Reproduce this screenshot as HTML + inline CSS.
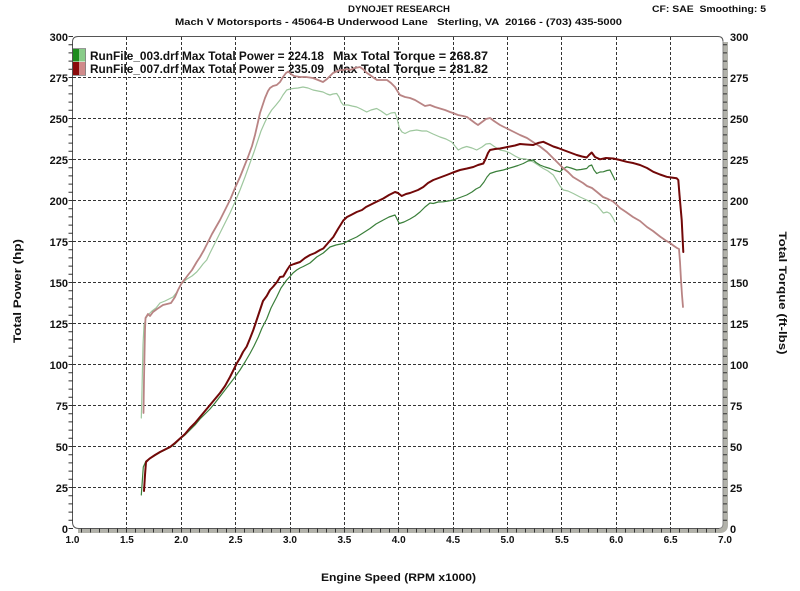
<!DOCTYPE html>
<html><head><meta charset="utf-8"><style>
html,body{margin:0;padding:0;background:#fff;}
svg{display:block;font-family:"Liberation Sans",sans-serif;font-weight:bold;}
text{white-space:pre;}
</style></head><body>
<svg width="800" height="591" viewBox="0 0 800 591" xmlns="http://www.w3.org/2000/svg">
<rect width="800" height="591" fill="#fff"/>
<!-- titles -->
<text x="348" y="12" font-size="9" textLength="102" lengthAdjust="spacingAndGlyphs" fill="#111">DYNOJET RESEARCH</text>
<text x="175" y="25" font-size="9.5" textLength="447" lengthAdjust="spacingAndGlyphs" fill="#111" xml:space="preserve">Mach V Motorsports - 45064-B Underwood Lane   Sterling, VA  20166 - (703) 435-5000</text>
<text x="652" y="12" font-size="9.5" textLength="114" lengthAdjust="spacingAndGlyphs" fill="#111" xml:space="preserve">CF: SAE  Smoothing: 5</text>

<!-- gridlines -->
<g stroke="#333" stroke-width="1" stroke-dasharray="3 2" fill="none">
<path d="M73 77.5H723M73 118.5H723M73 159.5H723M73 200.5H723M73 241.5H723M73 282.5H723M73 323.5H723M73 364.5H723M73 405.5H723M73 446.5H723M73 487.5H723"/>
<path d="M126.5 37V528M181.5 37V528M235.5 37V528M290.5 37V528M344.5 37V528M398.5 37V528M453.5 37V528M507.5 37V528M561.5 37V528M616.5 37V528M670.5 37V528"/>
</g>

<!-- frame -->
<path d="M78 530.5 L720 530.5 Q725.5 530.5 725.5 525 L725.5 42" stroke="#b2b2aa" stroke-width="5" fill="none"/>
<path d="M72.5 523 L72.5 42 Q72.5 36.5 78 36.5 L718 36.5 Q723 36.5 723 41.5" stroke="#555" stroke-width="1" fill="none"/>
<path d="M72.5 522 Q72.5 528.5 79 528.5 L720 528.5" stroke="#555" stroke-width="1" fill="none"/>
<path d="M723 41 L723 524 Q723 528 719 528.5" stroke="#888" stroke-width="1" fill="none"/>

<!-- left ticks -->
<g stroke="#333" stroke-width="1">
<path d="M68.5 36.5H73M68.5 44.7H73M68.5 52.9H73M68.5 61.1H73M68.5 69.3H73M68.5 77.5H73M68.5 85.7H73M68.5 93.9H73M68.5 102.1H73M68.5 110.3H73M68.5 118.5H73M68.5 126.7H73M68.5 134.9H73M68.5 143.1H73M68.5 151.3H73M68.5 159.5H73M68.5 167.7H73M68.5 175.9H73M68.5 184.1H73M68.5 192.3H73M68.5 200.5H73M68.5 208.7H73M68.5 216.9H73M68.5 225.1H73M68.5 233.3H73M68.5 241.5H73M68.5 249.7H73M68.5 257.9H73M68.5 266.1H73M68.5 274.3H73M68.5 282.5H73M68.5 290.7H73M68.5 298.9H73M68.5 307.1H73M68.5 315.3H73M68.5 323.5H73M68.5 331.7H73M68.5 339.9H73M68.5 348.1H73M68.5 356.3H73M68.5 364.5H73M68.5 372.7H73M68.5 380.9H73M68.5 389.1H73M68.5 397.3H73M68.5 405.5H73M68.5 413.7H73M68.5 421.9H73M68.5 430.1H73M68.5 438.3H73M68.5 446.5H73M68.5 454.7H73M68.5 462.9H73M68.5 471.1H73M68.5 479.3H73M68.5 487.5H73M68.5 495.7H73M68.5 503.9H73M68.5 512.1H73M68.5 520.3H73M68.5 528.5H73"/>
<!-- right ticks -->
<path d="M723 44.7H727M723 52.9H727M723 61.1H727M723 69.3H727M723 77.5H727M723 85.7H727M723 93.9H727M723 102.1H727M723 110.3H727M723 118.5H727M723 126.7H727M723 134.9H727M723 143.1H727M723 151.3H727M723 159.5H727M723 167.7H727M723 175.9H727M723 184.1H727M723 192.3H727M723 200.5H727M723 208.7H727M723 216.9H727M723 225.1H727M723 233.3H727M723 241.5H727M723 249.7H727M723 257.9H727M723 266.1H727M723 274.3H727M723 282.5H727M723 290.7H727M723 298.9H727M723 307.1H727M723 315.3H727M723 323.5H727M723 331.7H727M723 339.9H727M723 348.1H727M723 356.3H727M723 364.5H727M723 372.7H727M723 380.9H727M723 389.1H727M723 397.3H727M723 405.5H727M723 413.7H727M723 421.9H727M723 430.1H727M723 438.3H727M723 446.5H727M723 454.7H727M723 462.9H727M723 471.1H727M723 479.3H727M723 487.5H727M723 495.7H727M723 503.9H727M723 512.1H727M723 520.3H727"/>
</g>
<!-- bottom ticks -->
<path stroke="#333" stroke-width="1" d="M81.5 528.5V532.5M90.5 528.5V532.5M99.5 528.5V532.5M108.5 528.5V532.5M117.5 528.5V532.5M126.5 528.5V532.5M135.5 528.5V532.5M144.5 528.5V532.5M153.5 528.5V532.5M162.5 528.5V532.5M172.5 528.5V532.5M181.5 528.5V532.5M190.5 528.5V532.5M199.5 528.5V532.5M208.5 528.5V532.5M217.5 528.5V532.5M226.5 528.5V532.5M235.5 528.5V532.5M244.5 528.5V532.5M253.5 528.5V532.5M262.5 528.5V532.5M271.5 528.5V532.5M280.5 528.5V532.5M290.5 528.5V532.5M299.5 528.5V532.5M308.5 528.5V532.5M317.5 528.5V532.5M326.5 528.5V532.5M335.5 528.5V532.5M344.5 528.5V532.5M353.5 528.5V532.5M362.5 528.5V532.5M371.5 528.5V532.5M380.5 528.5V532.5M389.5 528.5V532.5M398.5 528.5V532.5M407.5 528.5V532.5M416.5 528.5V532.5M425.5 528.5V532.5M434.5 528.5V532.5M443.5 528.5V532.5M453.5 528.5V532.5M462.5 528.5V532.5M471.5 528.5V532.5M480.5 528.5V532.5M489.5 528.5V532.5M498.5 528.5V532.5M507.5 528.5V532.5M516.5 528.5V532.5M525.5 528.5V532.5M534.5 528.5V532.5M543.5 528.5V532.5M552.5 528.5V532.5M561.5 528.5V532.5M570.5 528.5V532.5M579.5 528.5V532.5M588.5 528.5V532.5M597.5 528.5V532.5M606.5 528.5V532.5M616.5 528.5V532.5M625.5 528.5V532.5M634.5 528.5V532.5M643.5 528.5V532.5M652.5 528.5V532.5M661.5 528.5V532.5M670.5 528.5V532.5M679.5 528.5V532.5M688.5 528.5V532.5M697.5 528.5V532.5M706.5 528.5V532.5M715.5 528.5V532.5"/>

<!-- left labels -->
<g font-size="11" text-anchor="end" fill="#111">
<text x="68" y="41">300</text><text x="68" y="82">275</text><text x="68" y="123">250</text><text x="68" y="164">225</text><text x="68" y="205">200</text><text x="68" y="246">175</text><text x="68" y="287">150</text><text x="68" y="328">125</text><text x="68" y="369">100</text><text x="68" y="410">75</text><text x="68" y="451">50</text><text x="68" y="492">25</text><text x="68" y="533">0</text>
</g>
<g font-size="11" text-anchor="start" fill="#111">
<text x="730" y="41">300</text><text x="730" y="82">275</text><text x="730" y="123">250</text><text x="730" y="164">225</text><text x="730" y="205">200</text><text x="730" y="246">175</text><text x="730" y="287">150</text><text x="730" y="328">125</text><text x="730" y="369">100</text><text x="730" y="410">75</text><text x="730" y="451">50</text><text x="730" y="492">25</text><text x="730" y="533">0</text>
</g>
<g font-size="10" text-anchor="middle" fill="#111">
<text x="72.5" y="543">1.0</text><text x="126.9" y="543">1.5</text><text x="181.2" y="543">2.0</text><text x="235.6" y="543">2.5</text><text x="290" y="543">3.0</text><text x="344.4" y="543">3.5</text><text x="398.7" y="543">4.0</text><text x="453.1" y="543">4.5</text><text x="507.5" y="543">5.0</text><text x="561.9" y="543">5.5</text><text x="616.2" y="543">6.0</text><text x="670.6" y="543">6.5</text><text x="725" y="543">7.0</text>
</g>

<text x="321" y="581" font-size="11" textLength="155" lengthAdjust="spacingAndGlyphs" fill="#111">Engine Speed (RPM x1000)</text>
<text transform="translate(21,291) rotate(-90)" text-anchor="middle" font-size="11" textLength="104" lengthAdjust="spacingAndGlyphs" fill="#111">Total Power (hp)</text>
<text transform="translate(779,293) rotate(90)" text-anchor="middle" font-size="11" textLength="123" lengthAdjust="spacingAndGlyphs" fill="#111">Total Torque (ft-lbs)</text>

<!-- legend -->
<rect x="73" y="49" width="6" height="12.5" fill="#1e8c1e"/>
<rect x="79" y="49" width="6.5" height="12.5" fill="#88cc88"/>
<rect x="73" y="62" width="6" height="13" fill="#8a0a0a"/>
<rect x="79" y="62" width="6.5" height="13" fill="#d08a8a"/>
<rect x="72.5" y="48.5" width="13" height="27" fill="none" stroke="#555" stroke-width="0.6"/>
<g font-size="11.5" fill="#111">
<text x="90" y="60" textLength="234" lengthAdjust="spacingAndGlyphs">RunFile_003.drf Max Total Power = 224.18</text>
<text x="333" y="60" textLength="155" lengthAdjust="spacingAndGlyphs">Max Total Torque = 268.87</text>
<text x="90" y="73" textLength="234" lengthAdjust="spacingAndGlyphs">RunFile_007.drf Max Total Power = 235.09</text>
<text x="333" y="73" textLength="155" lengthAdjust="spacingAndGlyphs">Max Total Torque = 281.82</text>
</g>

<!-- curves -->
<g fill="none" stroke-linejoin="round" stroke-linecap="round">
<polyline stroke="#9ec79e" stroke-width="1.2" points="141.3,418 142,390 143,345 144,325 146,318 148,315 152,311 156,308 160,303 165,301 169,299 173,297 177,292 180,286 183.3,282 187,279 192,276 196.7,272 200,268 203,264 206.7,260 210,253 215,243 220,233 225,223 230,213 235,202 240,190 245,177 250,163 254,152 258,140 261,131 265,122 268,116 271.7,110 276,105 280,100 283,95 286.7,90 290,89 293,88.5 298,88 303,87 308,88 313,90 318,91 323,92 327,94 330,95 333,94 336.7,93.5 339,97 341,102 343.3,105 348,105 352,106 356.7,107 361,109 366.7,112 371,110 376.7,108.5 381,111 386.7,115 391,113 395,112.5 397,118 399.3,128 402,132 405,133.5 410,131 416.7,130 422,131 426.7,131 433,134 440,137 446,139 451.7,142 455,146 458.3,150 462,148 466.7,146.5 472,148 476.7,150 482,147 486,144 490,143.5 495,147 500,150 505,151 510,153 515,156 520,158.5 526,159 533.3,162 538,165 543.3,168.5 548,171 553.3,175 557,181 560,186 563.3,190 568,191 573.3,193.5 580,197 586.7,200 592,203 596.7,205 600,209 603.3,213 607,212 610,213.5 613,218 615,222"/>
<polyline stroke="#3a7f3a" stroke-width="1.2" points="141.3,495 142.5,478 143.3,467 146,461 150,458.5 155,455.5 160,452.5 165,450 170,447.5 175,444 180,439 185,435 190,430 195,425 200,419 205,414 210,409 215,403 220,396.5 225,390 230,383.5 235,377 240,370 245,362 250,353.5 254,346 258.3,337 262,328 266.7,319 271,308 276.7,297 281,288 286.7,280 290,276.5 293,273 296.7,270 300,268 303.3,266.5 310,263 316.7,257 323.3,253 330,247 336,245 343.3,243.5 350,240 356.7,237 363,233 370,228.5 376,224 383.3,220 389,217 395,215 397,219 399.3,223.5 404,222 410,219 415,216 420,212 425,207 430,203 433.3,203.5 438,202 443.3,201.8 448,201 453.3,200 460,197.5 466.7,195 472,192 476,189 480,187 484,182 487,177 490,173.5 496,171.5 503.3,170 508,168.5 513.3,167 518,165.5 523.3,163.5 528,161 533.3,160 536,162.5 540,165 545,167 550,168.5 555,170.5 560,171.8 563,169 566.7,166.8 571,168 576.7,170 581,169.5 586.7,168.5 589,166 591.7,165 594,170 596.7,173.5 600,172 603.3,171.8 607,170.5 610,170 612,174 615,180"/>
<polyline stroke="#b98484" stroke-width="1.8" points="143.5,413 144,380 145,330 145.5,318 148,314 150,316 153,312 157,309 160,307 163,305 167,304 171,303 175,297 178,290 181.7,283 185,279 188,275 192,270 196.7,262 200,257 204,250 208,242 212,234 216,227 220,220 225,210 230,200 235,188 240,177 244,167 248,157 252,146 255,135 258,122 260,113 263,104 265,98 268,91 270,88 273,86 276.7,85 280,82 283,77 286,73 288.3,71.5 291,74 294,76 300,77 306,77 313,78 318,80 323,82 327,79 330,76 333,73 336.7,71.5 340,70 343,70 347,69 350,70 355,68 360,67 364,70 367,73 370,75 374,78 377,80 382,80 387,80 391,83 395,87 398,92 400,95 405,97 410,98 415,100 420,103 425,106 430,105 435,107 440,108.5 445,110 450,112 453,113 458,115 463,116 467,117 471,120 475,123 478,125 482,122 486,119 490,118 494,121 500,125 506,128 513,131.5 520,135 527,138 533,142 540,146.5 547,152 553,158 558,163 563,168 568,172 573,177 578,180 583,183 587,186 592,188 597,192 603,197 608,199 613,201.5 617,205 620,208 626,212 633,217 640,221 647,227 653,231 660,236.5 665,240 670,243 674,246 677,248 679,249 680,262 681,280 682,295 683,307"/>
<polyline stroke="#720808" stroke-width="2" points="144,491 145,475 146,462 148,460 150,458.3 155,455 160,452 165,449.5 170,447 175,443 180,438.5 185,434 190,428 195,423 200,417 205,411 210,405 215,399 220,393 225,386 230,377 233,371 236.7,363.5 240,358 243,352 246.7,346.5 250,338.5 253.3,330 256,322 260,310 263,301 266.7,296 270,290 273.3,286.5 277,282 280,277 283.3,276.5 287,270 290,265.5 294,264 297,263 300,262 305,258 310,255 315,253 320,250 323.3,248.5 328,243 333.3,237 338,229 343.3,220.5 347,217 351,215 356.7,212 362,210 366,207 370,205 376,202 383.3,198.5 389,195 395,192 398,193 401.7,196 406,194 410,193 414,191.5 418,190 423.3,187 428,183 433.3,180 440,177.5 446.7,175 453,172.5 460,170 467,168.5 473.3,167 478,165 483.3,163.5 486,158 488,153 490,150 495,149 500,148.5 505,147.5 510,146.5 515,145.5 520,144 526,144.5 533.3,145 538,143 543.3,141.8 548,144 553.3,146.5 558,148 563.3,150 570,152.5 576.7,155 582,156.5 586.7,157.5 589,155 591.7,152.5 595,157 600,159.3 606,158 613.3,158.5 620,160 626.7,161.8 633,163 640,165 647,168 653.3,171.8 660,174.5 666.7,176.8 671,177.5 676.7,178.3 678.3,180 679.5,195 681.7,220 683.3,252"/>
</g>
</svg>
</body></html>
